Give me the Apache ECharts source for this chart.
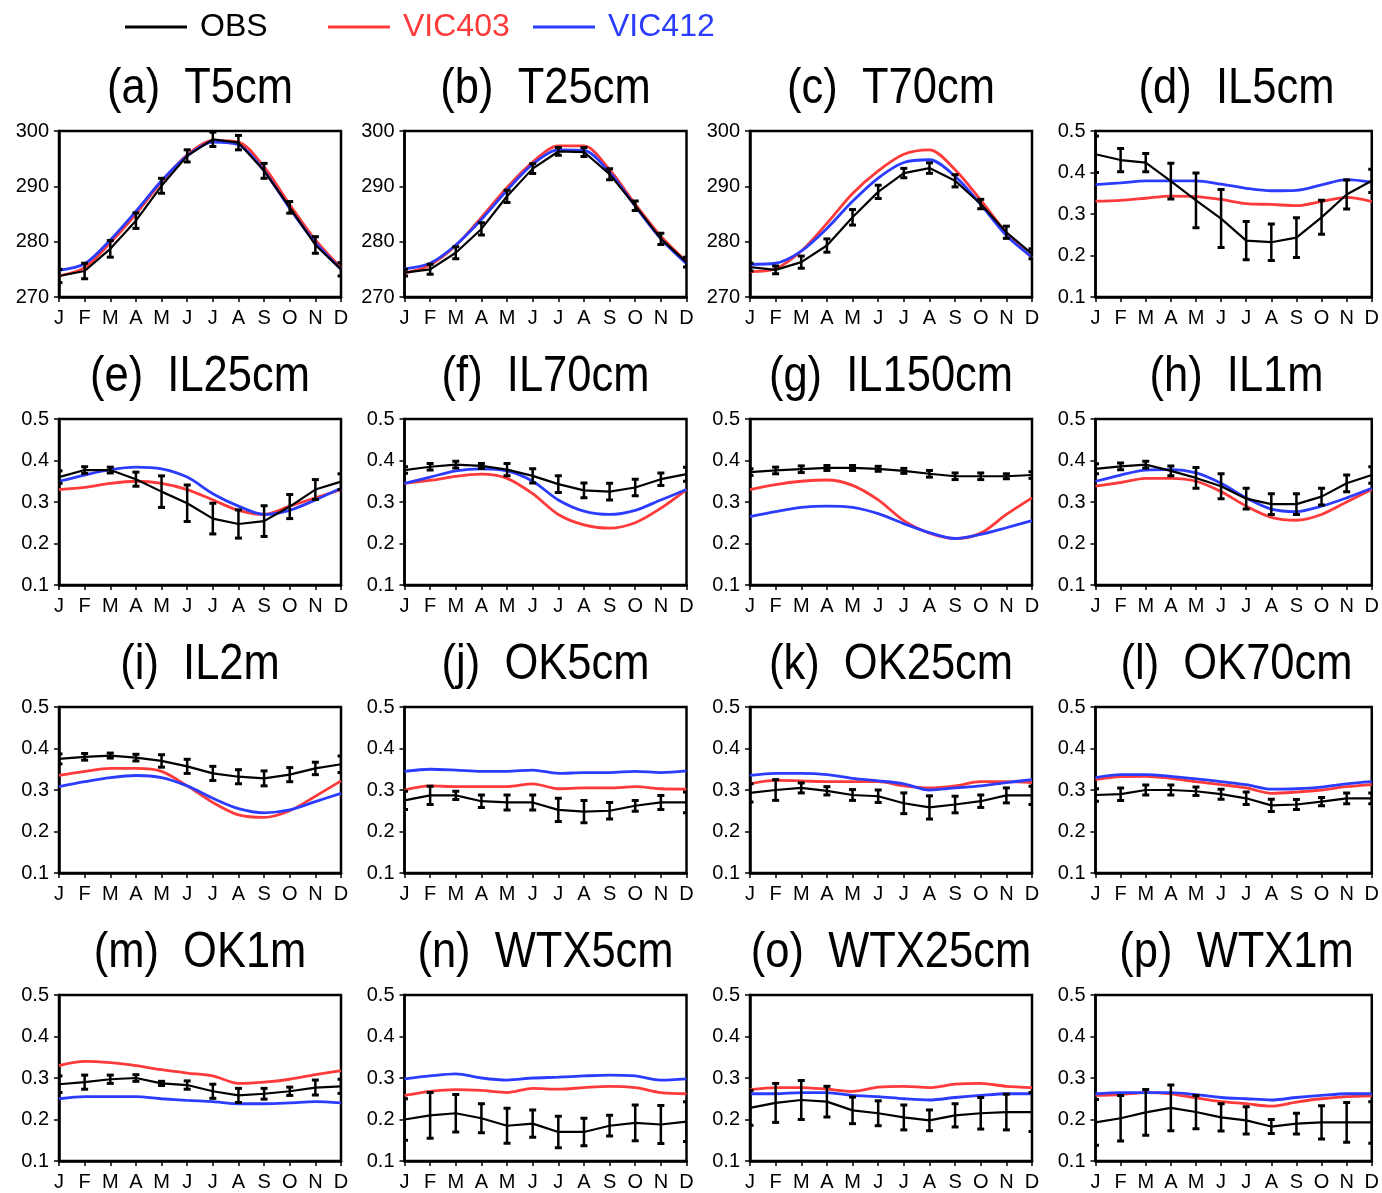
<!DOCTYPE html>
<html>
<head>
<meta charset="utf-8">
<script src="https://cdn.jsdelivr.net/npm/echarts@6/dist/echarts.min.js"></script>
<style>
  html, body { margin: 0; padding: 0; background: #fff; }
  #chart { width: 1382px; height: 1193px; }
</style>
</head>
<body>
<div id="chart"></div>
<script>
// ---------- data ----------
const MONTHS = ['J','F','M','A','M','J','J','A','S','O','N','D'];
const SERIES_NAMES = ['OBS', 'VIC403', 'VIC412'];
const TITLES = ['(a)  T5cm','(b)  T25cm','(c)  T70cm','(d)  IL5cm',
                '(e)  IL25cm','(f)  IL70cm','(g)  IL150cm','(h)  IL1m',
                '(i)  IL2m','(j)  OK5cm','(k)  OK25cm','(l)  OK70cm',
                '(m)  OK1m','(n)  WTX5cm','(o)  WTX25cm','(p)  WTX1m'];
const TEMP_TICKS = [270, 280, 290, 300];
const MOIST_TICKS = [0.1, 0.2, 0.3, 0.4, 0.5];

const obs_a = [273.8, 274.7, 278.7, 283.8, 290.1, 295.5, 298.5, 297.9, 292.8, 286.2, 279.4, 275.0];
const err_a = [1.2, 1.4, 1.5, 1.4, 1.35, 1.1, 1.3, 1.3, 1.35, 1.05, 1.5, 1.2];
const v403_a = [273.8, 275.3, 279.8, 285.0, 290.8, 295.7, 298.3, 298.0, 293.5, 286.7, 280.3, 275.3];
const v412_a = [274.8, 276.0, 280.3, 285.5, 291.0, 295.5, 298.0, 297.5, 292.8, 286.0, 279.8, 275.0];

const obs_b = [274.4, 275.0, 278.0, 282.3, 288.2, 293.2, 296.3, 296.2, 292.2, 286.5, 280.5, 276.3];
const err_b = [0.6, 0.9, 1.1, 1.1, 1.1, 0.9, 0.7, 0.8, 1.0, 0.85, 1.0, 0.9];
const v403_b = [274.3, 275.8, 279.3, 284.4, 289.8, 294.4, 297.3, 297.3, 293.0, 286.8, 281.0, 276.4];
const v412_b = [275.1, 276.1, 279.4, 284.0, 289.3, 294.0, 296.6, 296.5, 292.5, 286.4, 280.5, 276.0];

const obs_c = [275.4, 274.9, 276.3, 279.3, 284.4, 289.0, 292.4, 293.3, 291.0, 286.8, 281.7, 277.8];
const err_c = [0.7, 0.7, 1.1, 1.2, 1.4, 1.2, 0.85, 0.95, 1.1, 0.85, 1.1, 0.9];
const v403_c = [274.6, 275.1, 278.3, 283.3, 288.7, 292.8, 295.8, 296.6, 293.0, 287.5, 281.6, 277.1];
const v412_c = [275.9, 276.1, 278.3, 282.4, 287.3, 291.5, 294.3, 294.8, 291.8, 286.7, 281.1, 277.2];

const obs_d = [0.444, 0.430, 0.424, 0.379, 0.333, 0.289, 0.236, 0.232, 0.243, 0.292, 0.347, 0.380];
const err_d = [0.044, 0.028, 0.022, 0.043, 0.066, 0.070, 0.046, 0.044, 0.048, 0.041, 0.035, 0.028];
const v403_d = [0.331, 0.333, 0.338, 0.343, 0.342, 0.335, 0.325, 0.323, 0.320, 0.330, 0.340, 0.330];
const v412_d = [0.371, 0.375, 0.380, 0.380, 0.380, 0.372, 0.362, 0.356, 0.357, 0.370, 0.383, 0.377];

const obs_e = [0.360, 0.377, 0.377, 0.355, 0.325, 0.297, 0.260, 0.247, 0.254, 0.289, 0.330, 0.349];
const err_e = [0.015, 0.008, 0.007, 0.017, 0.038, 0.044, 0.037, 0.034, 0.037, 0.029, 0.024, 0.019];
const v403_e = [0.330, 0.335, 0.345, 0.350, 0.345, 0.330, 0.305, 0.280, 0.270, 0.290, 0.310, 0.330];
const v412_e = [0.350, 0.365, 0.378, 0.384, 0.380, 0.360, 0.320, 0.290, 0.270, 0.280, 0.305, 0.333];

const obs_f = [0.377, 0.385, 0.390, 0.387, 0.378, 0.363, 0.343, 0.328, 0.325, 0.335, 0.355, 0.367];
const err_f = [0.008, 0.008, 0.008, 0.006, 0.015, 0.017, 0.020, 0.018, 0.020, 0.020, 0.015, 0.017];
const v403_f = [0.345, 0.352, 0.362, 0.367, 0.357, 0.320, 0.270, 0.245, 0.237, 0.250, 0.285, 0.330];
const v412_f = [0.345, 0.360, 0.375, 0.380, 0.375, 0.350, 0.305, 0.278, 0.270, 0.280, 0.305, 0.330];

const obs_g = [0.372, 0.376, 0.379, 0.382, 0.382, 0.380, 0.375, 0.368, 0.362, 0.362, 0.362, 0.365];
const err_g = [0.008, 0.008, 0.008, 0.006, 0.006, 0.006, 0.006, 0.008, 0.008, 0.008, 0.006, 0.008];
const v403_g = [0.330, 0.342, 0.350, 0.353, 0.340, 0.305, 0.255, 0.225, 0.212, 0.225, 0.270, 0.310];
const v412_g = [0.265, 0.277, 0.287, 0.290, 0.287, 0.272, 0.248, 0.226, 0.212, 0.222, 0.238, 0.255];

const obs_h = [0.380, 0.386, 0.390, 0.375, 0.358, 0.338, 0.308, 0.295, 0.295, 0.313, 0.345, 0.365];
const err_h = [0.012, 0.008, 0.008, 0.012, 0.025, 0.030, 0.025, 0.025, 0.025, 0.020, 0.020, 0.020];
const v403_h = [0.338, 0.347, 0.357, 0.357, 0.350, 0.325, 0.290, 0.263, 0.256, 0.270, 0.300, 0.330];
const v412_h = [0.350, 0.365, 0.377, 0.378, 0.370, 0.345, 0.310, 0.283, 0.277, 0.290, 0.310, 0.333];

const obs_i = [0.375, 0.380, 0.383, 0.378, 0.370, 0.357, 0.340, 0.332, 0.328, 0.337, 0.352, 0.362];
const err_i = [0.012, 0.008, 0.006, 0.008, 0.015, 0.017, 0.017, 0.017, 0.018, 0.017, 0.015, 0.020];
const v403_i = [0.335, 0.345, 0.352, 0.352, 0.345, 0.310, 0.270, 0.240, 0.234, 0.250, 0.285, 0.322];
const v412_i = [0.308, 0.320, 0.330, 0.335, 0.330, 0.310, 0.280, 0.255, 0.245, 0.252, 0.272, 0.292];

const obs_j = [0.275, 0.287, 0.287, 0.273, 0.270, 0.270, 0.252, 0.248, 0.250, 0.262, 0.270, 0.270];
const err_j = [0.022, 0.022, 0.010, 0.015, 0.018, 0.018, 0.028, 0.027, 0.020, 0.013, 0.017, 0.025];
const v403_j = [0.300, 0.310, 0.308, 0.308, 0.308, 0.315, 0.303, 0.305, 0.305, 0.308, 0.303, 0.302];
const v412_j = [0.345, 0.350, 0.348, 0.345, 0.345, 0.348, 0.340, 0.342, 0.342, 0.345, 0.342, 0.346];

const obs_k = [0.293, 0.300, 0.305, 0.298, 0.288, 0.285, 0.268, 0.258, 0.265, 0.273, 0.287, 0.287];
const err_k = [0.022, 0.025, 0.012, 0.010, 0.013, 0.015, 0.025, 0.028, 0.020, 0.015, 0.018, 0.022];
const v403_k = [0.315, 0.323, 0.322, 0.320, 0.320, 0.320, 0.310, 0.305, 0.310, 0.320, 0.320, 0.318];
const v412_k = [0.335, 0.340, 0.340, 0.337, 0.328, 0.322, 0.315, 0.300, 0.305, 0.310, 0.318, 0.325];

const obs_l = [0.288, 0.290, 0.300, 0.300, 0.297, 0.290, 0.280, 0.263, 0.265, 0.272, 0.280, 0.280];
const err_l = [0.015, 0.015, 0.012, 0.012, 0.010, 0.012, 0.015, 0.015, 0.012, 0.010, 0.013, 0.013];
const v403_l = [0.325, 0.332, 0.333, 0.328, 0.320, 0.313, 0.305, 0.292, 0.295, 0.300, 0.308, 0.313];
const v412_l = [0.330, 0.337, 0.337, 0.333, 0.327, 0.320, 0.313, 0.302, 0.303, 0.307, 0.315, 0.320];

const obs_m = [0.285, 0.290, 0.297, 0.300, 0.287, 0.283, 0.268, 0.258, 0.262, 0.268, 0.277, 0.280];
const err_m = [0.020, 0.017, 0.010, 0.008, 0.005, 0.010, 0.017, 0.017, 0.013, 0.010, 0.018, 0.017];
const v403_m = [0.330, 0.340, 0.337, 0.330, 0.320, 0.312, 0.305, 0.287, 0.290, 0.297, 0.308, 0.318];
const v412_m = [0.250, 0.255, 0.255, 0.255, 0.250, 0.246, 0.243, 0.238, 0.238, 0.240, 0.243, 0.240];

const obs_n = [0.200, 0.210, 0.215, 0.203, 0.185, 0.190, 0.170, 0.170, 0.185, 0.192, 0.188, 0.195];
const err_n = [0.050, 0.055, 0.045, 0.035, 0.042, 0.033, 0.038, 0.033, 0.025, 0.043, 0.046, 0.048];
const v403_n = [0.258, 0.268, 0.272, 0.270, 0.265, 0.275, 0.273, 0.277, 0.280, 0.277, 0.265, 0.262];
const v412_n = [0.298, 0.305, 0.310, 0.300, 0.295, 0.300, 0.302, 0.305, 0.307, 0.305, 0.295, 0.298];

const obs_o = [0.228, 0.240, 0.247, 0.243, 0.222, 0.215, 0.205, 0.198, 0.210, 0.215, 0.218, 0.218];
const err_o = [0.042, 0.047, 0.047, 0.037, 0.032, 0.030, 0.030, 0.025, 0.028, 0.038, 0.043, 0.047];
const v403_o = [0.272, 0.277, 0.277, 0.273, 0.268, 0.278, 0.280, 0.277, 0.285, 0.287, 0.280, 0.277];
const v412_o = [0.262, 0.262, 0.265, 0.265, 0.258, 0.255, 0.250, 0.247, 0.253, 0.258, 0.262, 0.262];

const obs_p = [0.193, 0.203, 0.217, 0.228, 0.218, 0.205, 0.198, 0.183, 0.190, 0.193, 0.193, 0.193];
const err_p = [0.055, 0.055, 0.055, 0.055, 0.040, 0.033, 0.033, 0.017, 0.025, 0.040, 0.048, 0.050];
const v403_p = [0.258, 0.260, 0.265, 0.262, 0.252, 0.243, 0.238, 0.232, 0.242, 0.250, 0.255, 0.257];
const v412_p = [0.262, 0.265, 0.265, 0.265, 0.260, 0.253, 0.250, 0.247, 0.253, 0.258, 0.262, 0.262];

// ---------- build ----------
const PANELS = [
  [obs_a, err_a, v403_a, v412_a, TEMP_TICKS], [obs_b, err_b, v403_b, v412_b, TEMP_TICKS],
  [obs_c, err_c, v403_c, v412_c, TEMP_TICKS], [obs_d, err_d, v403_d, v412_d, MOIST_TICKS],
  [obs_e, err_e, v403_e, v412_e, MOIST_TICKS], [obs_f, err_f, v403_f, v412_f, MOIST_TICKS],
  [obs_g, err_g, v403_g, v412_g, MOIST_TICKS], [obs_h, err_h, v403_h, v412_h, MOIST_TICKS],
  [obs_i, err_i, v403_i, v412_i, MOIST_TICKS], [obs_j, err_j, v403_j, v412_j, MOIST_TICKS],
  [obs_k, err_k, v403_k, v412_k, MOIST_TICKS], [obs_l, err_l, v403_l, v412_l, MOIST_TICKS],
  [obs_m, err_m, v403_m, v412_m, MOIST_TICKS], [obs_n, err_n, v403_n, v412_n, MOIST_TICKS],
  [obs_o, err_o, v403_o, v412_o, MOIST_TICKS], [obs_p, err_p, v403_p, v412_p, MOIST_TICKS]
];

const FONT = "'Liberation Sans', Arial, sans-serif";
const C_OBS = '#000000', C_403 = '#ff3a3a', C_412 = '#2c3cff';
const GRID_LEFT0 = 59, GRID_DX = 345.5, GRID_W = 282;
const GRID_TOP0 = 131, GRID_DY = 288, GRID_H = 166;

const grids = [], xAxes = [], yAxes = [], series = [], graphics = [];

PANELS.forEach((p, k) => {
  const [obs, err, v403, v412, ticks] = p;
  const col = k % 4, row = Math.floor(k / 4);
  const left = GRID_LEFT0 + col * GRID_DX;
  const top = GRID_TOP0 + row * GRID_DY;
  grids.push({ left, top, width: GRID_W, height: GRID_H, show: true,
               borderColor: '#000', borderWidth: 2.5, backgroundColor: 'transparent' });
  xAxes.push({
    type: 'category', gridIndex: k, data: MONTHS, boundaryGap: false,
    axisLine: { show: true, lineStyle: { color: '#000', width: 2.5 } },
    axisTick: { show: true, inside: false, length: 5, alignWithLabel: true, interval: 0,
                lineStyle: { color: '#000', width: 1.5 } },
    axisLabel: { interval: 0, color: '#000', fontFamily: FONT, fontSize: 20, margin: 11 },
    splitLine: { show: false }
  });
  const tmin = ticks[0], tmax = ticks[ticks.length - 1];
  const step = ticks[1] - ticks[0];
  yAxes.push({
    type: 'value', gridIndex: k, min: tmin, max: tmax, interval: step,
    axisLine: { show: true, lineStyle: { color: '#000', width: 2.5 } },
    axisTick: { show: true, inside: false, length: 5, lineStyle: { color: '#000', width: 1.5 } },
    axisLabel: { color: '#000', fontFamily: FONT, fontSize: 20, margin: 10,
                 formatter: v => (tmax > 10 ? String(Math.round(v)) : v.toFixed(1)) },
    splitLine: { show: false }
  });
  const lineBase = { type: 'line', xAxisIndex: k, yAxisIndex: k, symbol: 'none',
                     showSymbol: false, animation: false, silent: true };
  series.push(Object.assign({}, lineBase, { name: 'VIC403', data: v403, smooth: 0.3,
    lineStyle: { color: C_403, width: 2.8 }, itemStyle: { color: C_403 }, z: 2 }));
  series.push(Object.assign({}, lineBase, { name: 'VIC412', data: v412, smooth: 0.3,
    lineStyle: { color: C_412, width: 2.8 }, itemStyle: { color: C_412 }, z: 3 }));
  series.push(Object.assign({}, lineBase, { name: 'OBS', data: obs, smooth: false,
    lineStyle: { color: C_OBS, width: 2.2 }, itemStyle: { color: C_OBS }, z: 4 }));
  series.push({
    type: 'custom', name: 'OBS', xAxisIndex: k, yAxisIndex: k, animation: false, silent: true, z: 5,
    itemStyle: { color: C_OBS },
    data: obs.map((m, i) => [i, m, err[i]]),
    encode: { x: 0, y: 1 },
    renderItem: function (params, api) {
      const x = api.value(0), m = api.value(1), e = api.value(2);
      const t = api.coord([x, m + e]);
      const b = api.coord([x, m - e]);
      const w = 3.5;
      const cs = params.coordSys;
      const st = { stroke: '#000', lineWidth: 2.5 };
      return {
        type: 'group',
        clipPath: { type: 'rect', shape: { x: cs.x, y: cs.y, width: cs.width, height: cs.height } },
        children: [
          { type: 'line', shape: { x1: t[0], y1: t[1], x2: b[0], y2: b[1] }, style: st },
          { type: 'line', shape: { x1: t[0] - w, y1: t[1], x2: t[0] + w, y2: t[1] }, style: { stroke: '#000', lineWidth: 3 } },
          { type: 'line', shape: { x1: b[0] - w, y1: b[1], x2: b[0] + w, y2: b[1] }, style: { stroke: '#000', lineWidth: 3 } }
        ]
      };
    }
  });
  graphics.push({
    type: 'text', x: left + GRID_W / 2, y: top - 42, scaleX: 0.87, silent: true,
    style: { text: TITLES[k], fill: '#000', font: '50px ' + FONT,
             textAlign: 'center', textVerticalAlign: 'middle' }
  });
});

function legendFor(name, color, left) {
  return {
    show: true, left: left, top: 8, orient: 'horizontal', padding: 0,
    data: [{ name: name, icon: 'rect', textStyle: { color: color } }],
    itemWidth: 62, itemHeight: 3, selectedMode: false,
    textStyle: { fontFamily: FONT, fontSize: 32, lineHeight: 38, color: color, padding: [0, 0, 0, 8] }
  };
}

const option = {
  backgroundColor: '#ffffff',
  animation: false,
  legend: [
    legendFor('OBS', C_OBS, 125),
    legendFor('VIC403', C_403, 328),
    legendFor('VIC412', C_412, 533)
  ],
  grid: grids, xAxis: xAxes, yAxis: yAxes, series: series,
  graphic: graphics
};

const chart = echarts.init(document.getElementById('chart'), null, { renderer: 'canvas' });
chart.setOption(option);
</script>
</body>
</html>
